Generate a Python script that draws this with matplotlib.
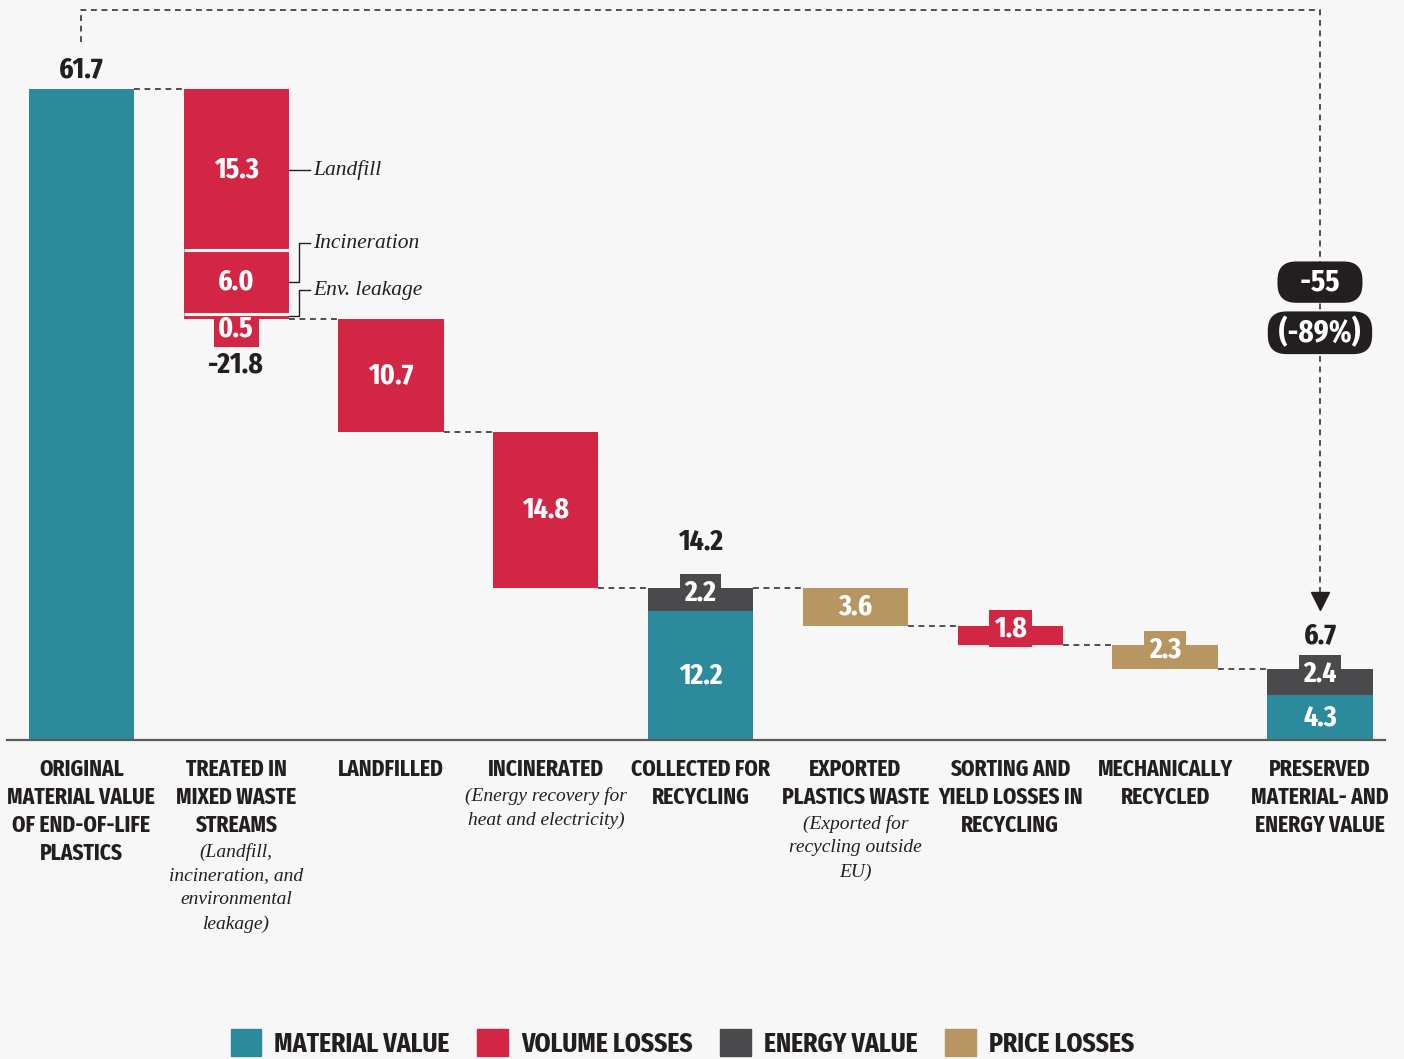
import os
import numpy as np
import matplotlib.pyplot as plt
from matplotlib import font_manager
from matplotlib.font_manager import FontProperties
from matplotlib.patches import Patch

# ---- data (EUR bn) ----
cat_titles = [
    ['ORIGINAL', 'MATERIAL VALUE', 'OF END-OF-LIFE', 'PLASTICS'],
    ['TREATED IN', 'MIXED WASTE', 'STREAMS'],
    ['LANDFILLED'],
    ['INCINERATED'],
    ['COLLECTED FOR', 'RECYCLING'],
    ['EXPORTED', 'PLASTICS WASTE'],
    ['SORTING AND', 'YIELD LOSSES IN', 'RECYCLING'],
    ['MECHANICALLY', 'RECYCLED'],
    ['PRESERVED', 'MATERIAL- AND', 'ENERGY VALUE'],
]
cat_notes = [
    [],
    ['(Landfill,', 'incineration, and', 'environmental', 'leakage)'],
    [],
    ['(Energy recovery for', 'heat and electricity)'],
    [],
    ['(Exported for', 'recycling outside', 'EU)'],
    [],
    [],
    [],
]

start_value = 61.7
treated_parts = [15.3, 6.0, 0.5]
treated_names = ['Landfill', 'Incineration', 'Env. leakage']
landfilled = 10.7
incinerated = 14.8
collected = [12.2, 2.2]        # material, energy
collected_total = 14.2
exported = 3.6
sorting_loss = 1.8
mech_loss = 2.3
preserved = [4.3, 2.4]         # material, energy
preserved_total = 6.7

TEAL = '#2B8A9B'
RED = '#D32645'
DARK = '#4A4A4C'
TAN = '#B89661'
BG = '#F7F7F7'
INK = '#231F20'
SERIF = ['Liberation Serif', 'DejaVu Serif']


# look for the narrowest bold face that is installed
def find_condensed():
    best, best_score = None, None
    for f in font_manager.fontManager.ttflist:
        key = (f.name + os.path.basename(f.fname)).lower().replace(' ', '').replace('-', '')
        if not any(k in key for k in ('condensed', 'narrow', 'cond')):
            continue
        if f.style != 'normal':
            continue
        w = f.weight
        if isinstance(w, str):
            w = font_manager.weight_dict.get(w, 400)
        if 'extracondensed' in key or 'ultracondensed' in key:
            s = 0
        elif 'semicondensed' in key:
            s = 2
        else:
            s = 1
        score = s * 1000 + abs(w - 700)
        if best_score is None or score < best_score:
            best, best_score = f.fname, score
    return best


COND = find_condensed()


def bold(size):
    if COND:
        return FontProperties(fname=COND, size=size)
    return FontProperties(family=['Roboto', 'DejaVu Sans'], weight='bold', size=size * 0.78)


fig = plt.figure(figsize=(14.04, 10.59), dpi=100, facecolor=BG)
PXU = 10.55                      # pixels per unit
ax = fig.add_axes([7 / 1404, 319 / 1059, 1378 / 1404, 730 / 1059])
ax.set_facecolor(BG)
ax.set_xlim(-0.48, 8.42)
ax.set_ylim(0, 730 / PXU)
for s in ['top', 'right', 'left']:
    ax.spines[s].set_visible(False)
ax.spines['bottom'].set_color('#5A5A5A')
ax.spines['bottom'].set_linewidth(1.6)
ax.set_xticks([])
ax.set_yticks([])

W = 0.68
half = W / 2


def px(v):
    return v * 0.72


def val_label(x, y, text, color=None, dy=0, size=21.5, fc=None):
    if fc:
        # tab behind the bar: only the part sticking out of the bar shows
        ax.annotate(text, (x, y), xytext=(0, px(dy)), textcoords='offset points',
                    ha='center', va='center', fontproperties=bold(size), color=fc,
                    zorder=0.8, bbox=dict(boxstyle='square,pad=0.16', fc=fc, ec='none'))
    ax.annotate(text, (x, y), xytext=(0, px(dy)), textcoords='offset points',
                ha='center', va='center', fontproperties=bold(size),
                color=color or 'white', zorder=6)


dash = dict(color='#333333', lw=1.2, ls=(0, (3.5, 2.8)), zorder=0.5)

# bar 0: original value
ax.bar(0, start_value, W, color=TEAL, zorder=1)
val_label(0, start_value, f'{start_value:.1f}', color=INK, dy=20)

# bar 1: treated in mixed waste streams (stacked losses)
lvl = start_value
tops = []
for part in treated_parts:
    ax.bar(1, part, W, bottom=lvl - part, color=RED, zorder=1)
    tops.append(lvl)
    lvl -= part
for t in tops[1:]:
    ax.hlines(t, 1 - half, 1 + half, color=BG, lw=2.2, zorder=5)
mids = [t - p / 2 for t, p in zip(tops, treated_parts)]
val_label(1, mids[0], f'{treated_parts[0]:.1f}')
val_label(1, mids[1], f'{treated_parts[1]:.1f}')
val_label(1, mids[2], f'{treated_parts[2]:.1f}', dy=-12, fc=RED)
val_label(1, lvl, f'{-sum(treated_parts):.1f}', color=INK, dy=-46)
after_treated = lvl
ax.plot([0 + half, 1 - half], [start_value, start_value], **dash)

# leader lines for treated sub-labels
edge = 1 + half
ax.plot([edge, edge + 0.14], [mids[0], mids[0]], color=INK, lw=1, zorder=2)
ax.text(edge + 0.16, mids[0], treated_names[0], family=SERIF, style='italic',
        fontsize=15.5, color=INK, va='center', ha='left')
ytxt = [tops[1] + 0.7, mids[1] - 0.75]
for m, yt, name in zip(mids[1:], ytxt, treated_names[1:]):
    ax.plot([edge, edge + 0.065, edge + 0.065, edge + 0.14], [m, m, yt, yt],
            color=INK, lw=1, zorder=2)
    ax.text(edge + 0.16, yt, name, family=SERIF, style='italic',
            fontsize=15.5, color=INK, va='center', ha='left')

# bars 2-3: landfilled, incinerated
prev = after_treated
for i, loss in [(2, landfilled), (3, incinerated)]:
    ax.plot([i - 1 + half, i - half], [prev, prev], **dash)
    ax.bar(i, loss, W, bottom=prev - loss, color=RED, zorder=1)
    val_label(i, prev - loss / 2, f'{loss:.1f}')
    prev -= loss

# bar 4: collected for recycling
ax.plot([3 + half, 4 - half], [prev, prev], **dash)
ax.bar(4, collected[0], W, color=TEAL, zorder=1)
ax.bar(4, collected[1], W, bottom=collected[0], color=DARK, zorder=1)
val_label(4, collected[0] / 2, f'{collected[0]:.1f}')
val_label(4, collected[0] + collected[1] / 2, f'{collected[1]:.1f}', dy=7, fc=DARK)
lvl = sum(collected)
val_label(4, lvl, f'{collected_total:.1f}', color=INK, dy=46)

# bars 5-7: price and volume losses after collection
for i, loss, col in [(5, exported, TAN), (6, sorting_loss, RED), (7, mech_loss, TAN)]:
    ax.plot([i - 1 + half, i - half], [lvl, lvl], **dash)
    ax.bar(i, loss, W, bottom=lvl - loss, color=col, zorder=1)
    if loss > 3:
        val_label(i, lvl - loss / 2, f'{loss:.1f}')
    else:
        val_label(i, lvl - loss / 2, f'{loss:.1f}', dy=7, fc=col)
    lvl -= loss

# bar 8: preserved value
ax.plot([7 + half, 8 - half], [lvl, lvl], **dash)
ax.bar(8, preserved[0], W, color=TEAL, zorder=1)
ax.bar(8, preserved[1], W, bottom=preserved[0], color=DARK, zorder=1)
val_label(8, preserved[0] / 2, f'{preserved[0]:.1f}')
val_label(8, preserved[0] + preserved[1] / 2, f'{preserved[1]:.1f}', dy=8, fc=DARK)
val_label(8, sum(preserved), f'{preserved_total:.1f}', color=INK, dy=34)

# overall change arrow
y_top = ax.get_ylim()[1]
y_start = start_value + 4.5
y_tip = preserved_total + 5.6
ax.plot([0, 0, 8, 8], [y_start, y_top, y_top, y_tip + 0.8], clip_on=False, **dash)
ax.plot(8, y_tip + 0.9, marker='v', ms=13, color=INK, zorder=3, clip_on=False)
change = preserved_total - start_value
pct = change / start_value * 100
for yy, txt in [(43.4, f'   {change:.0f}   '), (38.6, f' ({pct:.0f}%) ')]:
    ax.text(8, yy, txt, ha='center', va='center', color='white',
            fontproperties=bold(22.5), zorder=6,
            bbox=dict(boxstyle='round,pad=0.18,rounding_size=0.6', fc=INK, ec='none'))

# category labels
for i, (title, note) in enumerate(zip(cat_titles, cat_notes)):
    for k, line in enumerate(title):
        ax.annotate(line, (i, 0), xytext=(0, -px(29 + 28 * k)), textcoords='offset points',
                    ha='center', va='center', fontproperties=bold(16.8),
                    color=INK, annotation_clip=False)
    base = 29 + 28 * (len(title) - 1) + 27
    for k, line in enumerate(note):
        ax.annotate(line, (i, 0), xytext=(0, -px(base + 24 * k)), textcoords='offset points',
                    ha='center', va='center', fontsize=14, style='italic',
                    family=SERIF, color=INK, annotation_clip=False)

# legend
handles = [Patch(color=c) for c in [TEAL, RED, DARK, TAN]]
labels = ['MATERIAL VALUE', 'VOLUME LOSSES', 'ENERGY VALUE', 'PRICE LOSSES']
fig.legend(handles, labels, ncol=4, loc='upper center', bbox_to_anchor=(0.486, 30 / 1059),
           frameon=False, handlelength=1.1, handleheight=1.1, handletextpad=0.47,
           columnspacing=1.0, borderpad=0, borderaxespad=0,
           prop=bold(20), labelcolor=INK)

fig.savefig('out.png', dpi=100, facecolor=BG)
